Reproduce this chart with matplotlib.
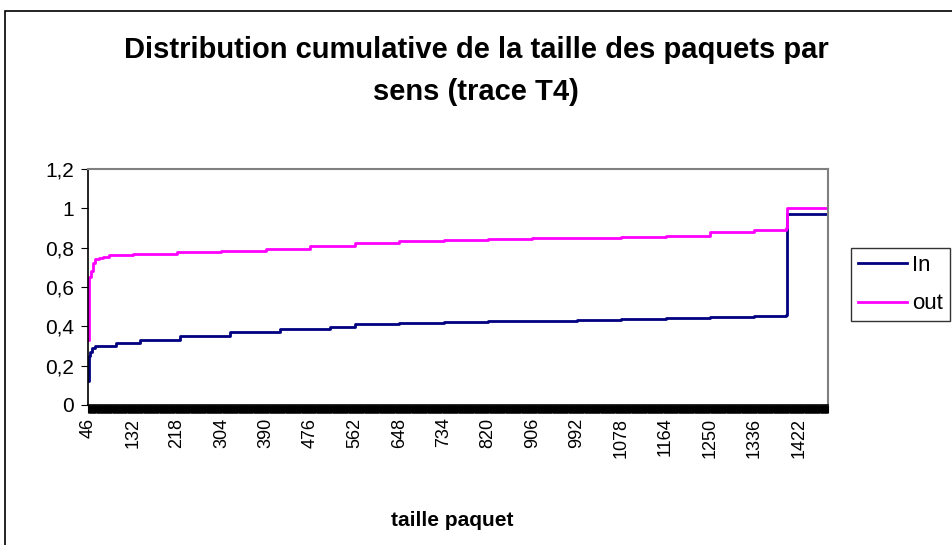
import matplotlib
matplotlib.use("Agg")
import matplotlib.pyplot as plt
from matplotlib.patches import Rectangle
from matplotlib.ticker import MultipleLocator, FixedLocator

plt.rcParams['font.family'] = ['Liberation Sans', 'DejaVu Sans']

# Data: packet size (category) and cumulative share
in_sizes = [46, 47, 48, 50, 54, 60, 100, 146, 224, 320, 417, 514, 562, 648,
            734, 820, 906, 992, 1078, 1164, 1250, 1336, 1398, 1399, 1478]
in_cdf = [0.12, 0.18, 0.25, 0.27, 0.29, 0.30, 0.315, 0.33, 0.35, 0.37, 0.385,
          0.395, 0.41, 0.415, 0.42, 0.425, 0.428, 0.43, 0.435, 0.44, 0.45,
          0.455, 0.46, 0.97, 0.97]

out_sizes = [46, 47, 52, 56, 60, 66, 75, 86, 132, 218, 304, 390, 476, 562,
             648, 734, 820, 906, 992, 1078, 1164, 1240, 1250, 1336, 1398,
             1399, 1478]
out_cdf = [0.33, 0.65, 0.68, 0.72, 0.74, 0.75, 0.755, 0.765, 0.77, 0.78,
           0.785, 0.795, 0.81, 0.825, 0.835, 0.84, 0.845, 0.848, 0.85, 0.853,
           0.857, 0.86, 0.88, 0.89, 0.90, 1.0, 1.0]

tick_sizes = [46, 132, 218, 304, 390, 476, 562, 648, 734, 820, 906, 992,
              1078, 1164, 1250, 1336, 1422]
y_ticks = [0, 0.2, 0.4, 0.6, 0.8, 1, 1.2]
y_labels = ['0', '0,2', '0,4', '0,6', '0,8', '1', '1,2']

W, H = 952, 545
fig = plt.figure(figsize=(W / 100, H / 100), dpi=100)

# outer chart frame (cut by the image edges)
fig.add_artist(Rectangle((5 / W, -0.1), 1.2, 1.1 - 11 / H, transform=fig.transFigure,
                         fill=False, edgecolor='black', linewidth=1.2))

ax = fig.add_axes([88 / W, 1 - 405 / H, (828 - 88) / W, (405 - 169) / H])

ax.plot(in_sizes, in_cdf, drawstyle='steps-post', color='#000080', linewidth=2.0, label='In')
ax.plot(out_sizes, out_cdf, drawstyle='steps-post', color='#FF00FF', linewidth=2.0, label='out')

ax.set_xlim(45.5, 1478.5)
ax.set_ylim(0, 1.2)
ax.set_yticks(y_ticks)
ax.set_yticklabels(y_labels, fontsize=15)
ax.xaxis.set_major_locator(FixedLocator(tick_sizes))
ax.set_xticklabels([str(s) for s in tick_sizes], rotation=90, fontsize=13)
ax.xaxis.set_minor_locator(MultipleLocator(1))
ax.tick_params(axis='x', which='both', length=6, width=0.8, color='black', direction='out')
ax.tick_params(axis='x', which='major', pad=3)
ax.tick_params(axis='y', length=5, width=0.8, color='black', pad=5)

for side in ['top', 'right']:
    ax.spines[side].set_color('#808080')
    ax.spines[side].set_linewidth(1.5)
for side in ['left', 'bottom']:
    ax.spines[side].set_color('black')
    ax.spines[side].set_linewidth(1.2)

fig.text(476 / W, 1 - 50 / H, "Distribution cumulative de la taille des paquets par",
         ha='center', va='center', fontsize=21, fontweight='bold')
fig.text(476 / W, 1 - 92 / H, "sens (trace T4)",
         ha='center', va='center', fontsize=21, fontweight='bold')
fig.text(452 / W, 1 - 520 / H, "taille paquet",
         ha='center', va='center', fontsize=15, fontweight='bold')

leg = fig.legend(loc='upper left', bbox_to_anchor=(851 / W, 1 - 248 / H),
                 fontsize=16, frameon=True, fancybox=False, handlelength=2.2,
                 handletextpad=0.25, borderaxespad=0, borderpad=0.3, labelspacing=0.8)
leg.get_frame().set_edgecolor('black')
leg.get_frame().set_linewidth(1.0)

fig.savefig("out.png", dpi=100)
